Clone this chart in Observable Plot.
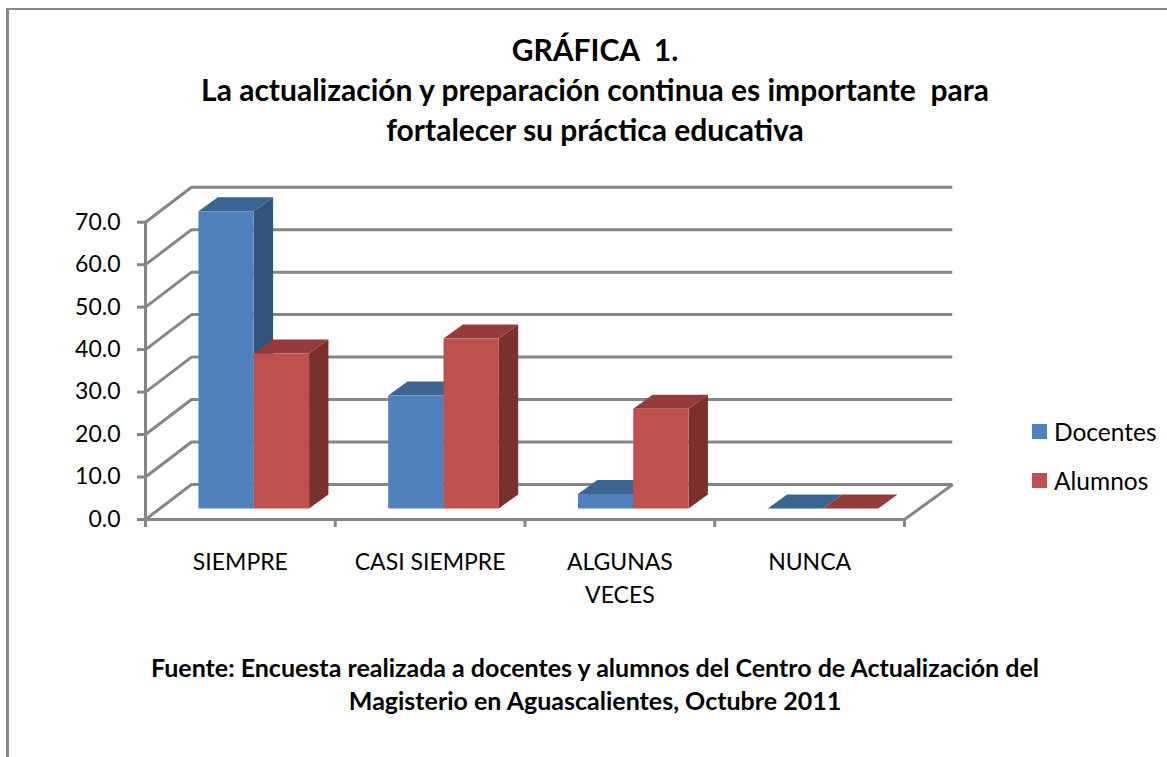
<!DOCTYPE html>
<html lang="es">
<head>
<meta charset="utf-8">
<script src="https://cdn.jsdelivr.net/npm/d3@7"></script>
<script src="https://cdn.jsdelivr.net/npm/@observablehq/plot@0.6"></script>
<style>
  html, body { margin: 0; padding: 0; background: #fff; overflow: hidden; }
  #page { position: relative; width: 1167px; height: 757px; font-family: Lato, "Open Sans", sans-serif; color: #000; box-sizing: border-box; }
  #frame { position: absolute; left: 6px; top: 8px; right: 0; bottom: 0; border-left: 3px solid #868686; border-top: 2px solid #868686; pointer-events: none; }
  #title { height: 175px; box-sizing: border-box; padding-top: 29px; text-align: center; font-weight: 700; font-size: 30px; line-height: 40px; width: 1190px; white-space: pre; }
  #caption { height: 132px; box-sizing: border-box; padding-top: 26px; text-align: center; font-weight: 700; font-size: 25px; line-height: 33px; width: 1190px; white-space: pre; }
  #chart svg { display: block; }
  #legend { position: absolute; left: 1032px; top: 407px; font-size: 24.5px; }
  #legend div { display: flex; align-items: center; height: 49px; gap: 7px; }
  #legend i { display: block; width: 15px; height: 15px; }
</style>
</head>
<body>
<div id="page">
  <div id="frame"></div>
  <div id="title"></div>
  <div id="chart"></div>
  <div id="caption"></div>
  <div id="legend"></div>
</div>
<script>
const titleLines = ["GRÁFICA  1.", "La actualización y preparación continua es importante  para", "fortalecer su práctica educativa"];
const captionLines = ["Fuente: Encuesta realizada a docentes y alumnos del Centro de Actualización del", "Magisterio en Aguascalientes, Octubre 2011"];
const categories = ["SIEMPRE", "CASI SIEMPRE", "ALGUNAS\nVECES", "NUNCA"];
const docentes = [70, 26.6, 3.4, 0];
const alumnos = [36.5, 40, 23.5, 0];
const yTicks = [0, 10, 20, 30, 40, 50, 60, 70];
const seriesNames = ["Docentes", "Alumnos"];
const seriesColors = ["#4f81bd", "#c0504d"];
const topColors = ["#3c6591", "#943c39"];
const sideColors = ["#32547c", "#7a312e"];

document.getElementById("title").textContent = titleLines.join("\n");
document.getElementById("caption").textContent = captionLines.join("\n");

// Depth of the 3D box and of the bars, in scale units
const wallDx = 0.2424, wallDy = 8.24, wallEnd = 0.2545;
const barDx = 0.102, barDy = 3.3;
const barStart = 0.279, barWidth = 0.2915, barBase = 2.6;

const faces = [];
function addFace(key, color, pts) {
  for (const [x, y] of pts) faces.push({key, color, x, y});
}
categories.forEach((c, i) => {
  [docentes, alumnos].forEach((series, s) => {
    const v = series[i];
    const x0 = i + barStart + s * barWidth, x1 = x0 + barWidth;
    const y0 = barBase, y1 = barBase + v;
    const k = `${i}-${s}`;
    if (v > 0) addFace(k + "side", sideColors[s], [[x1, y0], [x1 + barDx, y0 + barDy], [x1 + barDx, y1 + barDy], [x1, y1]]);
    addFace(k + "top", topColors[s], [[x0, y1], [x0 + barDx, y1 + barDy], [x1 + barDx, y1 + barDy], [x1, y1]]);
    if (v > 0) addFace(k + "front", seriesColors[s], [[x0, y0], [x1, y0], [x1, y1], [x0, y1]]);
  });
});

const boundaries = d3.range(categories.length + 1);
const centers = categories.map((_, i) => i + 0.5);
const gridColor = "#868686";
const lineW = 3;

const plot = Plot.plot({
  width: 1167,
  height: 450,
  marginLeft: 145,
  marginRight: 263,
  marginTop: 46.7,
  marginBottom: 106,
  style: {fontFamily: "Lato, 'Open Sans', sans-serif", fontSize: "20px", color: "#000", background: "transparent", overflow: "visible"},
  x: {type: "linear", domain: [0, categories.length], axis: null},
  y: {domain: [0, 70], axis: null},
  color: {type: "identity"},
  marks: [
    // back wall
    Plot.ruleY(yTicks, {x1: wallDx, x2: categories.length + wallEnd, y: d => d + wallDy, stroke: gridColor, strokeWidth: lineW}),
    // side wall diagonals
    Plot.link(yTicks, {x1: 0, x2: wallDx, y1: d => d, y2: d => d + wallDy, stroke: gridColor, strokeWidth: lineW}),
    // floor right edge
    Plot.link([0], {x1: categories.length, x2: categories.length + wallEnd, y1: 0, y2: wallDy, stroke: gridColor, strokeWidth: lineW}),
    // front axes
    Plot.ruleY([0], {x1: 0, x2: categories.length, stroke: gridColor, strokeWidth: lineW}),
    Plot.ruleX([0], {y1: 0, y2: 70, stroke: gridColor, strokeWidth: lineW}),
    // x ticks and labels
    Plot.axisX({ticks: boundaries, tickSize: 8, tickFormat: () => "", label: null, stroke: gridColor, strokeWidth: lineW, strokeOpacity: 1}),
    Plot.axisX({ticks: centers, tickSize: 0, tickPadding: 28, tickFormat: d => categories[d - 0.5], lineHeight: 1.4, fontSize: 23, label: null, lineWidth: 20}),
    // y ticks and labels
    Plot.axisY({ticks: yTicks, tickSize: 8, tickPadding: 17, tickFormat: d3.format(".1f"), stroke: gridColor, strokeWidth: lineW, strokeOpacity: 1, fontSize: 23, label: null}),
    // 3D bars
    Plot.line(faces, {x: "x", y: "y", z: "key", fill: "color", stroke: "none"})
  ]
});
document.getElementById("chart").append(plot);

const legend = document.getElementById("legend");
seriesNames.forEach((n, i) => {
  const row = document.createElement("div");
  const sw = document.createElement("i");
  sw.style.background = seriesColors[i];
  const t = document.createElement("span");
  t.textContent = n;
  row.append(sw, t);
  legend.append(row);
});
</script>
</body>
</html>
